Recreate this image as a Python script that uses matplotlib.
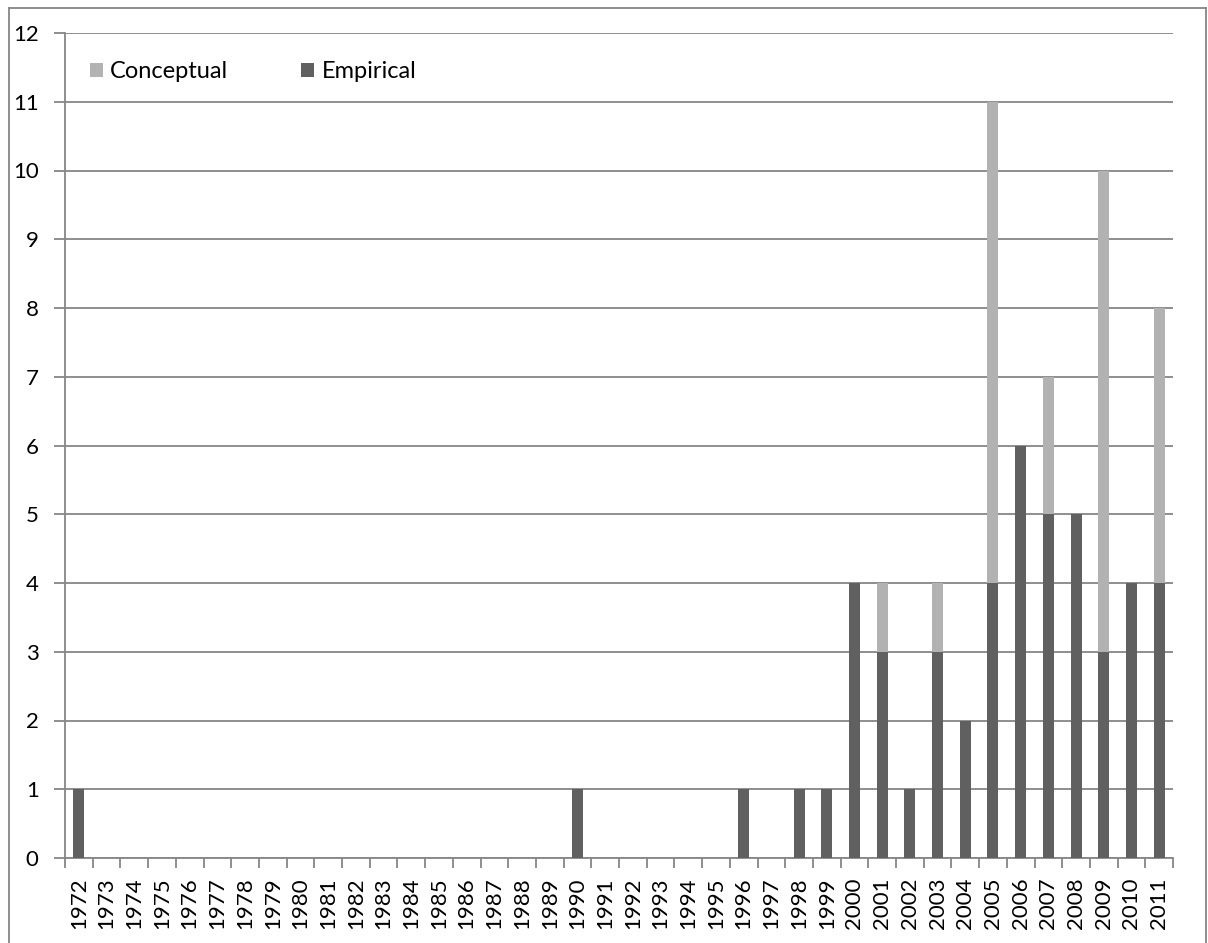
import matplotlib
matplotlib.use("Agg")
import matplotlib.pyplot as plt
from matplotlib.lines import Line2D
import numpy as np

years = [str(y) for y in range(1972, 2012)]
empirical_map = {1972: 1, 1990: 1, 1996: 1, 1998: 1, 1999: 1, 2000: 4, 2001: 3,
                 2002: 1, 2003: 3, 2004: 2, 2005: 4, 2006: 6, 2007: 5, 2008: 5,
                 2009: 3, 2010: 4, 2011: 4}
conceptual_map = {2001: 1, 2003: 1, 2005: 7, 2007: 2, 2009: 7, 2011: 4}
empirical = [empirical_map.get(int(y), 0) for y in years]
conceptual = [conceptual_map.get(int(y), 0) for y in years]

plt.rcParams['font.family'] = ['Lato', 'DejaVu Sans']

W, H = 1208, 943
fig = plt.figure(figsize=(W / 100, H / 100), dpi=100)
ax = fig.add_axes([65 / W, 1 - 858 / H, (1173 - 65) / W, (858 - 33) / H])

x = np.arange(len(years))
dark = '#606060'
light = '#b2b2b2'
grid = '#868686'
ax.bar(x, empirical, width=0.4, color=dark, label='Empirical', zorder=3)
ax.bar(x, conceptual, width=0.4, bottom=empirical, color=light, label='Conceptual', zorder=3)

ax.set_xlim(-0.5, len(years) - 0.5)
ax.set_ylim(0, 12)
ax.set_yticks(range(0, 13))
ax.yaxis.grid(True, color=grid, linewidth=1.3, zorder=0)
ax.set_xticks(np.arange(len(years) + 1) - 0.5, minor=True)
ax.set_xticks(x)
ax.set_xticklabels(years, rotation=90, fontsize=16)
ax.tick_params(axis='x', which='major', length=0, pad=14)
ax.tick_params(axis='x', which='minor', length=7, color=grid, width=1.3)
ax.tick_params(axis='y', length=8, color=grid, width=1.3, labelsize=16, pad=11)
for s in ['top', 'right']:
    ax.spines[s].set_visible(False)
for s in ['left', 'bottom']:
    ax.spines[s].set_color(grid)
    ax.spines[s].set_linewidth(1.3)

handles, labels = ax.get_legend_handles_labels()
leg = ax.legend(handles[::-1], labels[::-1], loc='center left', ncol=2,
                bbox_to_anchor=(0.0226, 1 - 39 / 825), frameon=False, fontsize=17,
                handlelength=0.55, handleheight=0.55, handletextpad=0.3,
                columnspacing=3.1, borderpad=0, borderaxespad=0)

# outer chart border
for (xs, ys) in [([9, 9], [8, 943]), ([9, 1206], [8, 8]), ([1206, 1206], [8, 943])]:
    fig.add_artist(Line2D([xx / W for xx in xs], [1 - yy / H for yy in ys],
                          color=grid, linewidth=1.3, transform=fig.transFigure))

fig.savefig('out.png', dpi=100)
